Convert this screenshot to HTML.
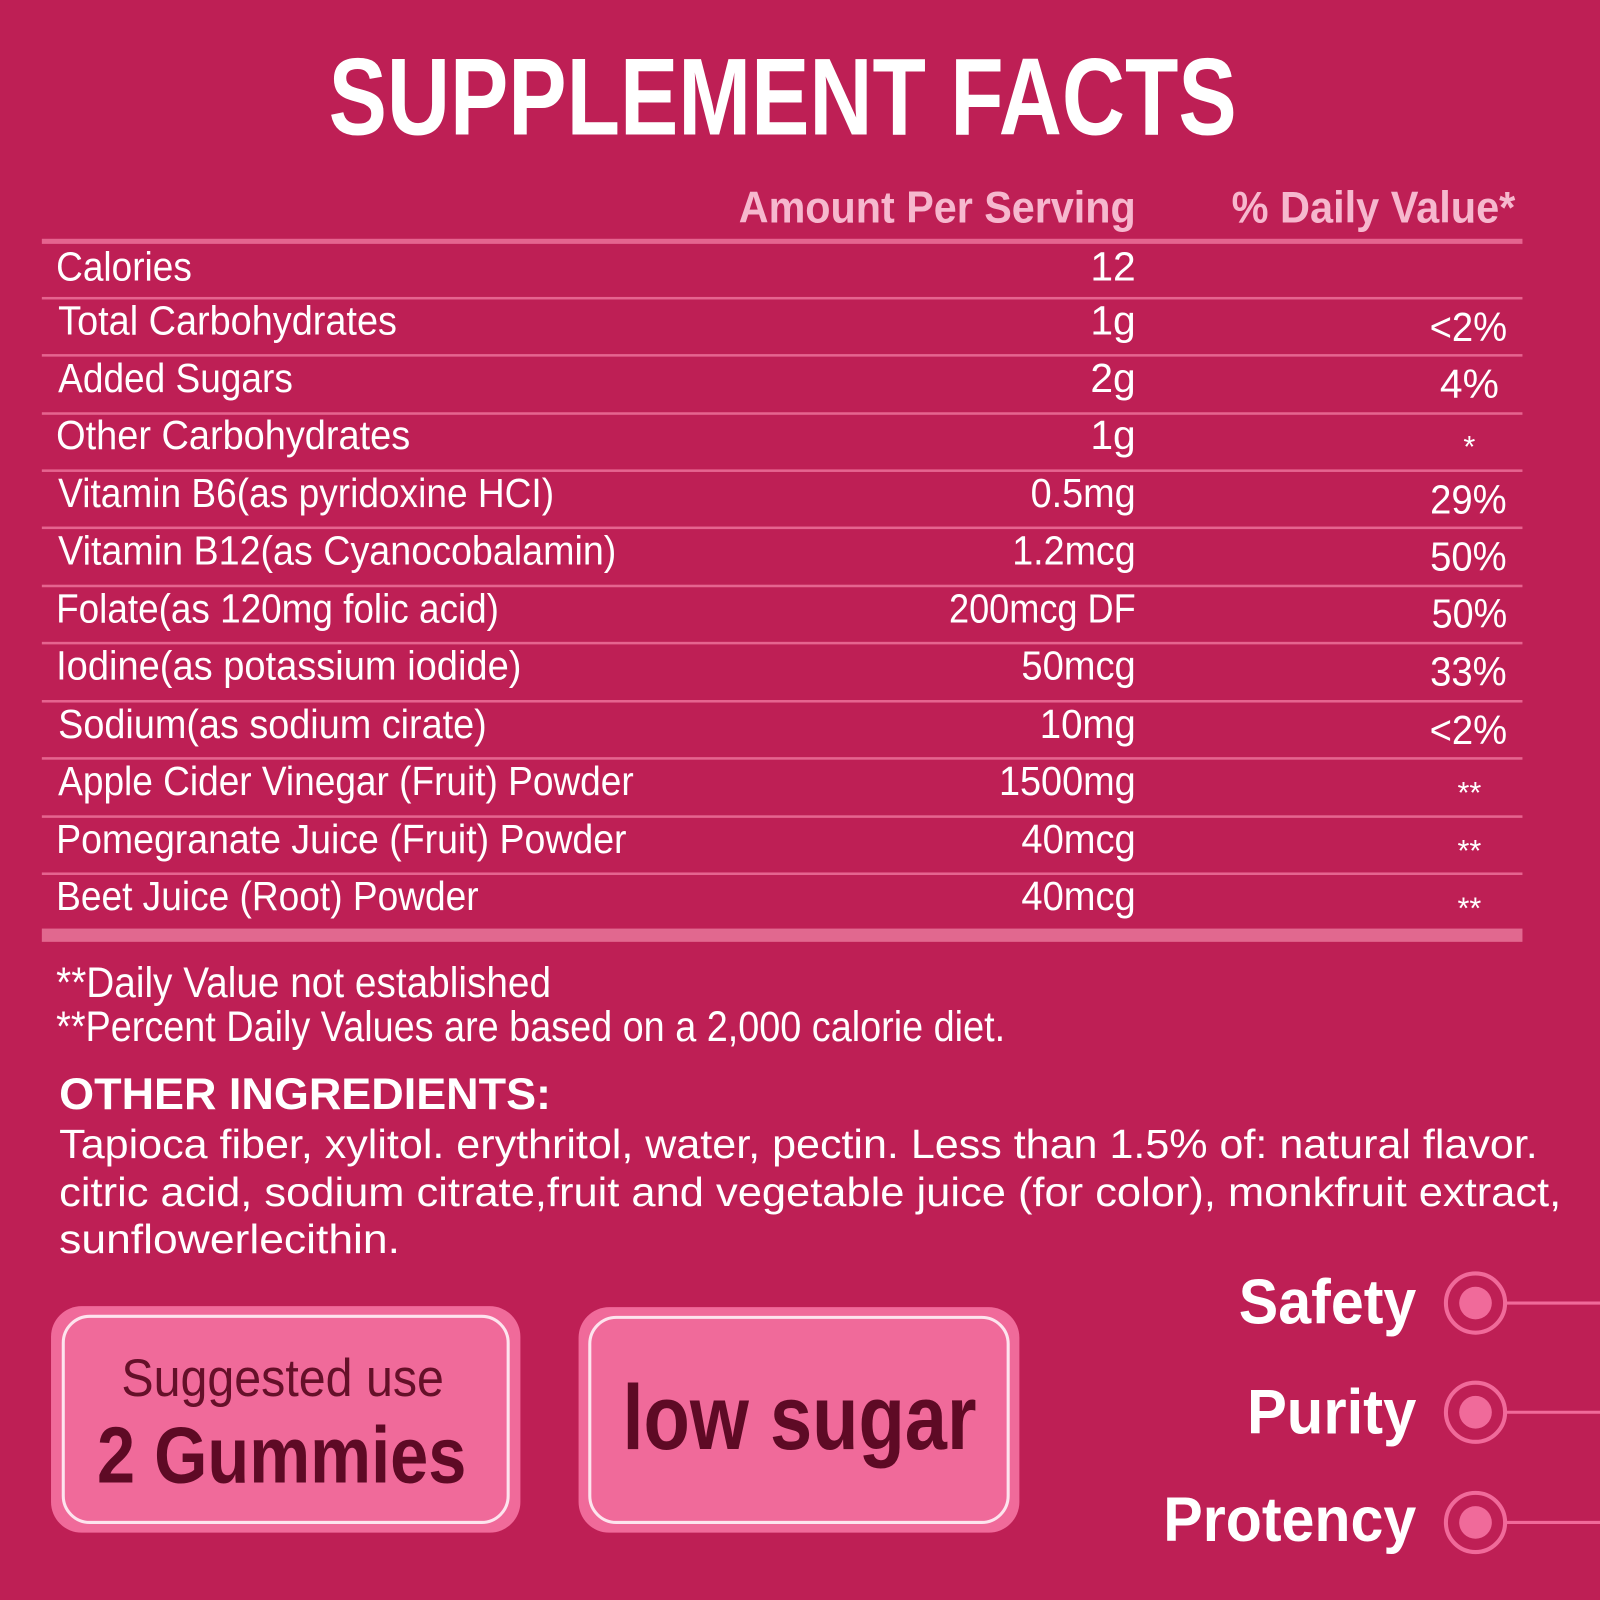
<!DOCTYPE html>
<html><head><meta charset="utf-8"><style>
html,body{margin:0;padding:0;background:#BE1F55;}
svg{display:block;}
text{font-family:"Liberation Sans",sans-serif;}
</style></head><body>
<svg width="1600" height="1600" viewBox="0 0 1568 1568" xmlns="http://www.w3.org/2000/svg">
<rect width="1568" height="1568" fill="#BE1F55"/>
<g fill="#fff" font-weight="bold">
<text x="322" y="132" font-size="107" textLength="890" lengthAdjust="spacingAndGlyphs">SUPPLEMENT FACTS</text>
</g>
<g fill="#F6B8CE" font-weight="bold" font-size="44">
<text x="724" y="218" textLength="389" lengthAdjust="spacingAndGlyphs">Amount Per Serving</text>
<text x="1207" y="218" textLength="278" lengthAdjust="spacingAndGlyphs">% Daily Value*</text>
</g>
<rect x="41" y="234" width="1451" height="5" fill="#E5648F"/>
<g fill="#E5648F">
<rect x="41" y="291" width="1451" height="2.5"/>
<rect x="41" y="347" width="1451" height="2.5"/>
<rect x="41" y="404" width="1451" height="2.5"/>
<rect x="41" y="460" width="1451" height="2.5"/>
<rect x="41" y="516" width="1451" height="2.5"/>
<rect x="41" y="573" width="1451" height="2.5"/>
<rect x="41" y="629" width="1451" height="2.5"/>
<rect x="41" y="686" width="1451" height="2.5"/>
<rect x="41" y="742" width="1451" height="2.5"/>
<rect x="41" y="799" width="1451" height="2.5"/>
<rect x="41" y="855" width="1451" height="2.5"/>
</g>
<rect x="41" y="910" width="1451" height="13" fill="#E1688F"/>
<g fill="#fff" font-size="40">
<text x="55" y="275" textLength="133" lengthAdjust="spacingAndGlyphs">Calories</text>
<text x="57" y="328" textLength="332" lengthAdjust="spacingAndGlyphs">Total Carbohydrates</text>
<text x="57" y="384" textLength="230" lengthAdjust="spacingAndGlyphs">Added Sugars</text>
<text x="55" y="440" textLength="347" lengthAdjust="spacingAndGlyphs">Other Carbohydrates</text>
<text x="57" y="497" textLength="486" lengthAdjust="spacingAndGlyphs">Vitamin B6(as pyridoxine HCI)</text>
<text x="57" y="553" textLength="547" lengthAdjust="spacingAndGlyphs">Vitamin B12(as Cyanocobalamin)</text>
<text x="55" y="610" textLength="434" lengthAdjust="spacingAndGlyphs">Folate(as 120mg folic acid)</text>
<text x="55" y="666" textLength="456" lengthAdjust="spacingAndGlyphs">Iodine(as potassium iodide)</text>
<text x="57" y="723" textLength="420" lengthAdjust="spacingAndGlyphs">Sodium(as sodium cirate)</text>
<text x="57" y="779" textLength="564" lengthAdjust="spacingAndGlyphs">Apple Cider Vinegar (Fruit) Powder</text>
<text x="55" y="836" textLength="559" lengthAdjust="spacingAndGlyphs">Pomegranate Juice (Fruit) Powder</text>
<text x="55" y="892" textLength="414" lengthAdjust="spacingAndGlyphs">Beet Juice (Root) Powder</text>
</g>
<g fill="#fff" font-size="40" text-anchor="end">
<text x="1113" y="275">12</text>
<text x="1113" y="328">1g</text>
<text x="1113" y="384">2g</text>
<text x="1113" y="440">1g</text>
<text x="1113" y="497" textLength="103" lengthAdjust="spacingAndGlyphs">0.5mg</text>
<text x="1113" y="553" textLength="121" lengthAdjust="spacingAndGlyphs">1.2mcg</text>
<text x="1113" y="610" textLength="183" lengthAdjust="spacingAndGlyphs">200mcg DF</text>
<text x="1113" y="666" textLength="112" lengthAdjust="spacingAndGlyphs">50mcg</text>
<text x="1113" y="723" textLength="94" lengthAdjust="spacingAndGlyphs">10mg</text>
<text x="1113" y="779" textLength="134" lengthAdjust="spacingAndGlyphs">1500mg</text>
<text x="1113" y="836" textLength="112" lengthAdjust="spacingAndGlyphs">40mcg</text>
<text x="1113" y="892" textLength="112" lengthAdjust="spacingAndGlyphs">40mcg</text>
</g>
<g fill="#fff" font-size="40" text-anchor="middle">
<text x="1439" y="334" textLength="76" lengthAdjust="spacingAndGlyphs">&lt;2%</text>
<text x="1440" y="390">4%</text>
<text x="1440" y="448" font-size="30">*</text>
<text x="1439" y="503" textLength="75" lengthAdjust="spacingAndGlyphs">29%</text>
<text x="1439" y="559" textLength="75" lengthAdjust="spacingAndGlyphs">50%</text>
<text x="1440" y="615" textLength="74" lengthAdjust="spacingAndGlyphs">50%</text>
<text x="1439" y="672" textLength="75" lengthAdjust="spacingAndGlyphs">33%</text>
<text x="1439" y="729" textLength="76" lengthAdjust="spacingAndGlyphs">&lt;2%</text>
<text x="1440" y="787" font-size="30">**</text>
<text x="1440" y="844" font-size="30">**</text>
<text x="1440" y="900" font-size="30">**</text>
</g>
<g fill="#fff" font-size="42">
<text x="55" y="977" textLength="485" lengthAdjust="spacingAndGlyphs">**Daily Value not established</text>
<text x="55" y="1020" textLength="930" lengthAdjust="spacingAndGlyphs">**Percent Daily Values are based on a 2,000 calorie diet.</text>
</g>
<text x="58" y="1087" fill="#fff" font-size="44" font-weight="bold" textLength="482" lengthAdjust="spacingAndGlyphs">OTHER INGREDIENTS:</text>
<g fill="#fff" font-size="40">
<text x="58" y="1135" textLength="1449" lengthAdjust="spacingAndGlyphs">Tapioca fiber, xylitol. erythritol, water, pectin. Less than 1.5% of: natural flavor.</text>
<text x="58" y="1182" textLength="1472" lengthAdjust="spacingAndGlyphs">citric acid, sodium citrate,fruit and vegetable juice (for color), monkfruit extract,</text>
<text x="58" y="1228" textLength="334" lengthAdjust="spacingAndGlyphs">sunflowerlecithin.</text>
</g>
<rect x="50" y="1280" width="460" height="222" rx="30" fill="#F06A9A"/>
<rect x="62" y="1290" width="436" height="202" rx="26" fill="none" stroke="#FDE4EE" stroke-width="3"/>
<text x="277" y="1368" text-anchor="middle" fill="#651029" font-size="52" textLength="316" lengthAdjust="spacingAndGlyphs">Suggested use</text>
<text x="276" y="1453" text-anchor="middle" fill="#5E0A25" font-size="78" font-weight="bold" textLength="362" lengthAdjust="spacingAndGlyphs">2 Gummies</text>
<rect x="567" y="1281" width="432" height="221" rx="30" fill="#F06A9A"/>
<rect x="578" y="1291" width="410" height="201" rx="26" fill="none" stroke="#FDE4EE" stroke-width="3"/>
<text x="610" y="1420" fill="#5E0A25" font-size="90" font-weight="bold" textLength="347" lengthAdjust="spacingAndGlyphs">low sugar</text>
<g fill="#fff" font-weight="bold" font-size="62" text-anchor="end">
<text x="1388" y="1297" textLength="174" lengthAdjust="spacingAndGlyphs">Safety</text>
<text x="1388" y="1405" textLength="166" lengthAdjust="spacingAndGlyphs">Purity</text>
<text x="1388" y="1510" textLength="248" lengthAdjust="spacingAndGlyphs">Protency</text>
</g>
<g stroke="#F06A9A" stroke-width="4" fill="none">
<circle cx="1446" cy="1277" r="29"/>
<circle cx="1446" cy="1384" r="29"/>
<circle cx="1446" cy="1492" r="29"/>
<line x1="1475" y1="1277" x2="1568" y2="1277" stroke-width="3"/>
<line x1="1475" y1="1384" x2="1568" y2="1384" stroke-width="3"/>
<line x1="1475" y1="1492" x2="1568" y2="1492" stroke-width="3"/>
</g>
<g fill="#F06A9A">
<circle cx="1446" cy="1277" r="16"/>
<circle cx="1446" cy="1384" r="16"/>
<circle cx="1446" cy="1492" r="16"/>
</g>
</svg>
</body></html>
